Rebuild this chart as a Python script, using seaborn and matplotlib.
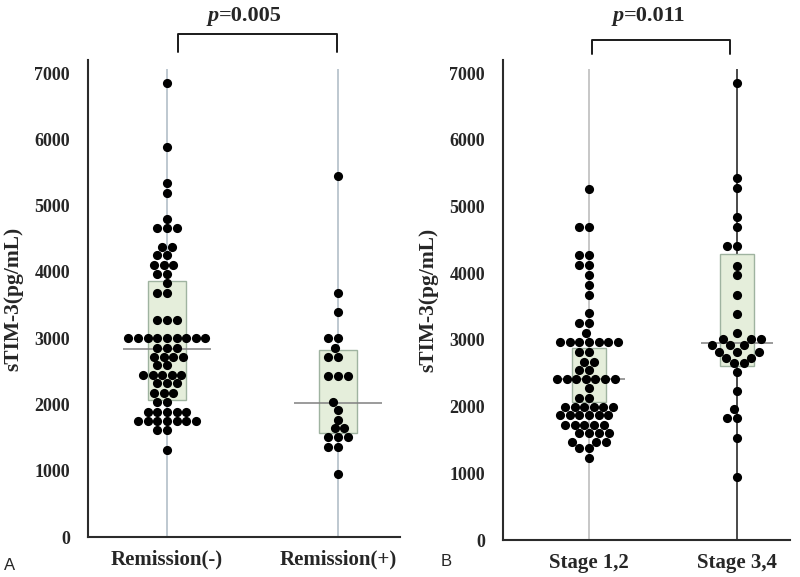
import numpy as np
import pandas as pd
import matplotlib
matplotlib.use("Agg")
import matplotlib.pyplot as plt
import seaborn as sns

# ---------------- data ----------------
left_categories = ["Remission(-)", "Remission(+)"]
right_categories = ["Stage 1,2", "Stage 3,4"]

remission_neg = [6850, 5880, 5340, 5190, 4800, 4660, 4660, 4660, 4370, 4370,
                 4250, 4250, 4100, 4100, 4100, 3970, 3970, 3830, 3680, 3680,
                 3270, 3270, 3270, 3000, 3000, 3000, 3000, 3000, 3000, 3000,
                 3000, 3000, 2850, 2850, 2850, 2720, 2720, 2720, 2720, 2590,
                 2590, 2440, 2440, 2440, 2440, 2440, 2320, 2320, 2320, 2170,
                 2170, 2170, 2040, 2040, 1890, 1890, 1890, 1890, 1890, 1750,
                 1750, 1750, 1750, 1750, 1750, 1750, 1610, 1610, 1320]
remission_pos = [5450, 3680, 3390, 3000, 3000, 2850, 2720, 2720, 2430, 2430,
                 2430, 2040, 1920, 1770, 1640, 1640, 1510, 1510, 1510, 1360,
                 1360, 950]
stage_12 = [5260, 4690, 4690, 4270, 4270, 4120, 4120, 3970, 3820, 3670,
            3400, 3250, 3250, 3100, 2970, 2970, 2970, 2970, 2970, 2970,
            2970, 2820, 2820, 2670, 2670, 2550, 2550, 2410, 2410, 2410,
            2410, 2410, 2410, 2410, 2280, 2130, 2130, 1990, 1990, 1990,
            1990, 1990, 1990, 1870, 1870, 1870, 1870, 1870, 1870, 1720,
            1720, 1720, 1720, 1720, 1600, 1600, 1600, 1600, 1470, 1470,
            1470, 1380, 1380, 1230]
stage_34 = [6850, 5430, 5280, 4840, 4690, 4410, 4410, 4110, 3970, 3670,
            3390, 3110, 3010, 3010, 3010, 2920, 2920, 2920, 2820, 2820,
            2820, 2730, 2730, 2650, 2650, 2520, 2230, 1960, 1830, 1830,
            1530, 950]

# box summary (Q1, median, Q3)
left_q1 = [2060, 1570]
left_median = [2830, 2020]
left_q3 = [3860, 2820]
right_q1 = [2070, 2610]
right_median = [2410, 2950]
right_q3 = [2880, 4290]

y_ticks = [0, 1000, 2000, 3000, 4000, 5000, 6000, 7000]
p_values = ["0.005", "0.011"]
y_label = "sTIM-3(pg/mL)"

# ---------------- style ----------------
sns.set_style("white")
plt.rcParams["font.family"] = ["Liberation Serif", "DejaVu Serif"]
serif = "Liberation Serif"
dark = "#2b2b2b"

fig = plt.figure(figsize=(8, 5.77), dpi=100)
axL = fig.add_axes([88 / 800, 0.0693, (400 - 88) / 800, 0.827])
axR = fig.add_axes([503 / 800, 0.0641, (790 - 503) / 800, 0.832])


def draw_panel(ax, cats, groups, q1, med, q3, line_colors, xlim,
               box_w, med_w):
    df = pd.DataFrame({
        "group": [c for c, g in zip(cats, groups) for _ in g],
        "value": [v for g in groups for v in g],
    })
    pos = np.arange(len(cats))
    # vertical category lines
    for i, col in enumerate(line_colors):
        ax.vlines(pos[i], 0, 7060, color=col, lw=1.3, zorder=0.5)
    # IQR boxes
    ax.bar(pos, np.array(q3) - np.array(q1), bottom=q1, width=box_w,
           color="#e5eedb", edgecolor="#9fb3a0", linewidth=1.0, zorder=1)
    # median lines
    ax.hlines(med, pos - med_w / 2, pos + med_w / 2, color="#808080",
              lw=1.1, zorder=1.5)
    sns.swarmplot(data=df, x="group", y="value", order=cats, color="black",
                  size=6.6, linewidth=0, ax=ax, zorder=3)
    ax.set_xlim(*xlim)
    ax.set_ylim(0, 7200)
    ax.set_yticks(y_ticks)
    ax.set_yticklabels([str(t) for t in y_ticks], fontsize=13,
                       fontweight="bold", fontfamily=serif)
    ax.set_xticks(pos)
    ax.set_xticklabels(cats, fontsize=15, fontweight="bold", fontfamily=serif)
    ax.tick_params(axis="x", length=0, pad=9)
    ax.tick_params(axis="y", length=4, width=1.2, color=dark, pad=9)
    ax.set_xlabel("")
    ax.set_ylabel(y_label, fontsize=15.5, fontweight="bold", fontfamily=serif,
                  labelpad=8)
    for s in ["top", "right"]:
        ax.spines[s].set_visible(False)
    for s in ["left", "bottom"]:
        ax.spines[s].set_color(dark)
        ax.spines[s].set_linewidth(1.5)
    ax.grid(False)


draw_panel(axL, left_categories, [remission_neg, remission_pos],
           left_q1, left_median, left_q3,
           ["#b9c4cd", "#b9c4cd"], (-0.462, 1.363), 0.222, 0.51)
draw_panel(axR, right_categories, [stage_12, stage_34],
           right_q1, right_median, right_q3,
           ["#c3c3c3", "#3a3a3a"], (-0.581, 1.358), 0.23, 0.48)


def yfrac(ax, ypix):
    # figure pixel row (from top) -> axes fraction
    bb = ax.get_position()
    fy = 1 - ypix / 577
    return (fy - bb.y0) / bb.height


# significance brackets and p-values
def bracket(ax, x0, x1, y_top, y_bot, text_y, p, split_x):
    tr = ax.get_xaxis_transform()
    ax.plot([x0, x0, x1, x1], [y_bot, y_top, y_top, y_bot], color="#1a1a1a",
            lw=1.4, clip_on=False, transform=tr)
    ax.text(split_x, text_y, "p", style="italic", fontweight="bold",
            fontsize=16, ha="right", va="center", fontfamily=serif,
            transform=tr)
    ax.text(split_x, text_y, "=" + p, fontweight="bold", fontsize=16,
            ha="left", va="center", fontfamily=serif, transform=tr)


bracket(axL, 0.065, 0.995, yfrac(axL, 34), yfrac(axL, 52), yfrac(axL, 16),
        p_values[0], 0.305)
bracket(axR, 0.02, 0.95, yfrac(axR, 40), yfrac(axR, 54), yfrac(axR, 16),
        p_values[1], 0.235)

fig.text(10 / 800, 1 - 566 / 577, "A", fontsize=12,
         fontfamily="Liberation Sans", ha="center", va="center")
fig.text(446 / 800, 1 - 562 / 577, "B", fontsize=12,
         fontfamily="Liberation Sans", ha="center", va="center")

fig.savefig("out.png", dpi=100)
